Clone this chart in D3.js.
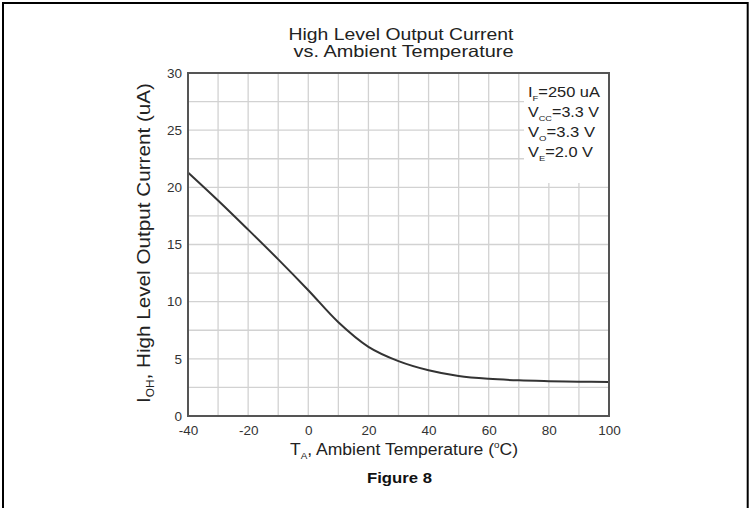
<!DOCTYPE html>
<html>
<head>
<meta charset="utf-8">
<script src="https://cdn.jsdelivr.net/npm/d3@7"></script>
<style>
  html, body { margin: 0; padding: 0; background: #fff; }
  svg { display: block; }
  text { font-family: "Liberation Sans", Arial, sans-serif; }
</style>
</head>
<body>
<div id="chart"></div>
<script>
// ---- data ----
const temperatures = [-40, -30, -20, -10, 0, 10, 20, 30, 40, 50, 60, 70, 80, 90, 100];
const outputCurrent = [21.3, 18.85, 16.3, 13.7, 11.0, 8.2, 6.05, 4.8, 4.0, 3.5, 3.25, 3.12, 3.05, 3.0, 2.97];
const xTickValues = [-40, -20, 0, 20, 40, 60, 80, 100];
const yTickValues = [0, 5, 10, 15, 20, 25, 30];
const xGridValues = d3.range(-40, 101, 10);
const yGridValues = d3.range(0, 30.01, 2.5);
const titleLines = ["High Level Output Current", "vs. Ambient Temperature"];
const conditions = [
  { main: "I", sub: "F", rest: "=250 uA" },
  { main: "V", sub: "CC", rest: "=3.3 V" },
  { main: "V", sub: "O", rest: "=3.3 V" },
  { main: "V", sub: "E", rest: "=2.0 V" }
];
const conditionWidths = [72, 71, 67, 65];

// ---- layout ----
const W = 752, H = 508;
const m = { left: 188, right: 143, top: 73, bottom: 92 };
const pw = W - m.left - m.right, ph = H - m.top - m.bottom;

const svg = d3.select("#chart").append("svg").attr("width", W).attr("height", H);

// outer frame (top, left, right)
svg.append("path")
  .attr("d", `M3,${H + 5} L3,3 L747.7,3 L747.7,${H + 5}`)
  .attr("fill", "none").attr("stroke", "#000").attr("stroke-width", 2);

const x = d3.scaleLinear().domain([-40, 100]).range([m.left, m.left + pw]);
const y = d3.scaleLinear().domain([0, 30]).range([m.top + ph, m.top]);

// grid
const grid = svg.append("g");
grid.selectAll("line.v").data(xGridValues).join("line")
  .attr("x1", d => x(d)).attr("x2", d => x(d))
  .attr("y1", y(0)).attr("y2", y(30))
  .attr("stroke", "#d2d2d2").attr("stroke-width", 1.3);
grid.selectAll("line.h").data(yGridValues).join("line")
  .attr("x1", x(-40)).attr("x2", x(100))
  .attr("y1", d => y(d)).attr("y2", d => y(d))
  .attr("stroke", "#d2d2d2").attr("stroke-width", 1.3);

// legend background (covers grid)
const legX = 524, legY = y(30), legW = x(100) - 524, legH = 110;
svg.append("rect").attr("x", legX).attr("y", legY).attr("width", legW).attr("height", legH)
  .attr("fill", "#fff");

// curve
const line = d3.line().x((d, i) => x(temperatures[i])).y(d => y(d)).curve(d3.curveCatmullRom.alpha(0.5));
svg.append("path").datum(outputCurrent)
  .attr("d", line).attr("fill", "none")
  .attr("stroke", "#333").attr("stroke-width", 2);

// frame
svg.append("rect").attr("x", x(-40)).attr("y", y(30)).attr("width", pw).attr("height", ph)
  .attr("fill", "none").attr("stroke", "#555").attr("stroke-width", 2);

// axes
const fmt = d => String(d);
const xAxis = svg.append("g").attr("transform", `translate(0,${y(0)})`)
  .call(d3.axisBottom(x).tickValues(xTickValues).tickSize(0).tickPadding(9).tickFormat(fmt));
const yAxis = svg.append("g").attr("transform", `translate(${x(-40)},0)`)
  .call(d3.axisLeft(y).tickValues(yTickValues).tickSize(0).tickPadding(6).tickFormat(fmt));
[xAxis, yAxis].forEach(a => {
  a.select(".domain").remove();
  a.selectAll("text").attr("font-size", 13.5).attr("fill", "#333")
    .style("font-family", "'Liberation Sans', Arial, sans-serif");
});

// title
svg.append("text").attr("x", 401).attr("y", 40).attr("text-anchor", "middle")
  .attr("font-size", 16.5).attr("fill", "#222")
  .attr("textLength", 225).attr("lengthAdjust", "spacingAndGlyphs").text(titleLines[0]);
svg.append("text").attr("x", 403.5).attr("y", 56.5).attr("text-anchor", "middle")
  .attr("font-size", 16.5).attr("fill", "#222")
  .attr("textLength", 220).attr("lengthAdjust", "spacingAndGlyphs").text(titleLines[1]);

// legend text
const legBase = [97, 117, 137, 157];
conditions.forEach((c, i) => {
  const t = svg.append("text").attr("x", 528).attr("y", legBase[i])
    .attr("font-size", 14).attr("fill", "#222")
    .attr("textLength", conditionWidths[i]).attr("lengthAdjust", "spacingAndGlyphs");
  t.append("tspan").text(c.main);
  t.append("tspan").attr("font-size", 8).attr("dy", 4).text(c.sub);
  t.append("tspan").attr("dy", -4).text(c.rest);
});

// x axis title
const xt = svg.append("text").attr("x", 290).attr("y", 455)
  .attr("font-size", 16).attr("fill", "#222")
  .attr("textLength", 228).attr("lengthAdjust", "spacingAndGlyphs");
xt.append("tspan").text("T");
xt.append("tspan").attr("font-size", 9).attr("dy", 4).text("A");
xt.append("tspan").attr("dy", -4).text(", Ambient Temperature (");
xt.append("tspan").attr("font-size", 9).attr("dy", -7).text("o");
xt.append("tspan").attr("dy", 7).text("C)");

// y axis title
const yt = svg.append("text")
  .attr("transform", `translate(150,${243}) rotate(-90)`)
  .attr("text-anchor", "middle")
  .attr("font-size", 17.5).attr("fill", "#222")
  .attr("textLength", 320).attr("lengthAdjust", "spacingAndGlyphs");
yt.append("tspan").text("I");
yt.append("tspan").attr("font-size", 10).attr("dy", 4).text("OH");
yt.append("tspan").attr("dy", -4).text(", High Level Output Current (uA)");

// figure label
svg.append("text").attr("x", 399.5).attr("y", 483).attr("text-anchor", "middle")
  .attr("font-size", 15.5).attr("font-weight", "bold").attr("fill", "#111")
  .attr("textLength", 65).attr("lengthAdjust", "spacingAndGlyphs")
  .text("Figure 8");
</script>
</body>
</html>
